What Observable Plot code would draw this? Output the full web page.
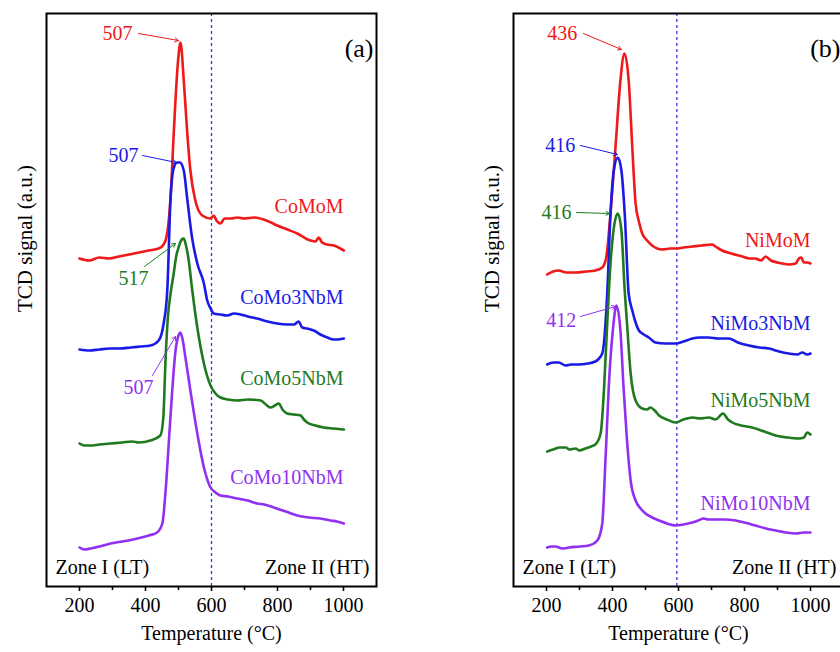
<!DOCTYPE html>
<html><head><meta charset="utf-8">
<script src="https://cdn.jsdelivr.net/npm/d3@7"></script>
<script src="https://cdn.jsdelivr.net/npm/@observablehq/plot@0.6"></script>
<style>
html,body{margin:0;padding:0;background:#fff;}
#wrap{position:relative;width:840px;height:652px;overflow:hidden;background:#fff;}
#a,#b{position:absolute;top:0;}
#a{left:0;width:400px;} #b{left:420px;width:450px;}
#a svg,#b svg{max-width:none !important;}
</style></head><body><div id="wrap"><div id="a"></div><div id="b"></div></div>
<script>
// ---------- shared ----------
const majorTicks = [200, 400, 600, 800, 1000];
const minorTicks = [300, 500, 700, 900];
const xLabel = "Temperature (°C)";
const yLabel = "TCD signal (a.u.)";
const zoneLabels = ["Zone I (LT)", "Zone II (HT)"];
const colors = ["#f01818", "#1a1ae6", "#1f7a1f", "#9130f0"];

// ---------- panel (a) ----------
const seriesA = ["CoMoM", "CoMo3NbM", "CoMo5NbM", "CoMo10NbM"];
const coMoM = [[200,328],[230,326],[260,329],[290,328],[320,330],[350,332],[380,334],[410,336],[440,338],[455,342],[465,352],[476,389],[486,456],[498,523],[506,544],[516,506],[526,456],[536,416],[551,386],[572,371],[597,368],[607,371],[615,366],[627,363],[640,368],[658,368],[680,369],[698,368],[730,369],[758,367],[780,364],[799,361],[830,357],[860,353],[900,346],[915,345],[925,349],[935,344],[950,342],[971,341],[990,338],[1001,336]];
const coMo3NbM = [[200,237],[230,236],[260,237],[290,238],[320,238],[355,239],[385,240],[415,241],[440,246],[455,263],[466,296],[476,389],[486,419],[496,424],[504,424],[516,416],[526,389],[541,349],[557,323],[577,303],[587,286],[597,278],[607,273],[627,272],[648,271],[668,273],[688,272],[710,270],[738,268],[770,265],[799,263],[830,262],[850,262],[864,265],[875,259],[890,258],[910,256],[930,252],[951,249],[970,247],[981,247],[1001,248]];
const coMo5NbM = [[200,143],[215,141],[233,141],[260,142],[294,143],[330,144],[360,145],[380,144],[415,146],[445,151],[454,169],[461,229],[468,270],[476,293],[485,312],[493,330],[501,340],[510,347],[516,348],[522,342],[531,326],[541,298],[557,259],[577,223],[597,201],[612,193],[627,189],[650,187],[678,186],[710,187],[749,186],[765,182],[779,179],[792,181],[804,183],[815,177],[829,173],[850,172],[870,171],[880,167],[890,164],[915,161],[940,159],[970,158],[1001,157]];
const coMo10NbM = [[200,39],[215,37],[233,38],[260,40],[294,43],[330,45],[375,48],[410,51],[435,54],[451,63],[461,96],[471,146],[481,196],[491,236],[500,251],[506,254],[513,246],[521,229],[536,196],[557,153],[577,119],[597,99],[612,94],[627,91],[650,90],[678,88],[710,86],[738,83],[760,82],[789,79],[825,75],[860,71],[895,69],[930,68],[960,66],[980,65],[1001,63]];
const labelYA = [380, 289, 208, 109];
const peakTextA = ["507", "507", "517", "507"];
const peakTextPosA = [[315,553],[333,431],[364,308],[379,199]];
const peakArrowA = [[379,553,500,546],[391,431,494,424],[397,320,491,343],[421,211,491,250]];
const dividerA = 600;

// ---------- panel (b) ----------
const seriesB = ["NiMoM", "NiMo3NbM", "NiMo5NbM", "NiMo10NbM"];
const niMoM = [[202,312],[220,315],[237,316],[260,314],[288,314],[320,315],[348,316],[369,319],[381,329],[394,373],[409,439],[424,506],[436,533],[449,506],[460,439],[470,383],[480,365],[490,353],[505,346],[520,341],[551,337],[575,338],[591,338],[615,339],[642,340],[670,341],[702,342],[712,340],[732,336],[760,333],[793,330],[815,328],[833,328],[850,326],[864,330],[880,326],[900,324],[914,323],[934,322],[955,323],[965,328],[972,329],[980,324],[990,324],[1000,323]];
const niMo3NbM = [[202,222],[220,224],[237,224],[258,221],[275,222],[298,222],[325,223],[348,225],[369,233],[384,293],[394,373],[404,416],[416,429],[427,416],[437,373],[449,293],[460,276],[470,264],[480,256],[495,252],[510,249],[530,244],[560,243],[591,243],[615,245],[642,248],[665,249],[692,249],[720,248],[752,248],[780,244],[813,241],[845,239],[874,238],[905,235],[934,233],[960,232],[975,234],[990,232],[1000,233]];
const niMo5NbM = [[202,135],[220,137],[240,139],[258,139],[270,137],[288,138],[300,136],[318,138],[335,140],[348,142],[364,153],[374,196],[384,263],[394,323],[406,363],[416,373],[427,356],[437,296],[444,263],[455,213],[470,186],[490,178],[505,177],[515,179],[528,176],[541,171],[565,167],[591,164],[615,167],[642,169],[665,168],[692,169],[712,167],[735,173],[750,167],[763,164],[790,161],[823,159],[860,155],[894,151],[930,149],[965,148],[980,149],[990,154],[1000,152]];
const niMo10NbM = [[202,39],[215,40],[227,40],[248,38],[268,39],[300,40],[328,41],[354,46],[369,63],[379,129],[391,213],[401,256],[412,281],[424,256],[434,196],[444,146],[455,106],[470,86],[485,78],[500,73],[520,69],[541,66],[565,63],[591,61],[615,62],[642,64],[660,66],[676,68],[690,67],[712,67],[740,67],[773,66],[800,64],[833,61],[865,58],[894,56],[925,54],[955,53],[980,54],[1000,54]];
const labelYB = [346, 263, 186, 83];
const peakTextB = ["436", "416", "416", "412"];
const peakTextPosB = [[248,553],[242,441],[230,374],[245,266]];
const peakArrowB = [[312,553,427,537],[303,441,415,432],[291,374,391,373],[303,270,409,280]];
const dividerB = 595;

function panel({tag, series, curves, labelY, peakText, peakTextPos, peakArrow, divider, width, marginLeft, marginRight}) {
  const rows = [];
  series.forEach((name, i) => curves[i].forEach(([T, s]) => rows.push({series: name, T, s})));
  const labels = series.map((name, i) => ({series: name, x: 1000, y: labelY[i]}));
  const peaks = series.map((name, i) => ({
    series: name, text: peakText[i], tx: peakTextPos[i][0], ty: peakTextPos[i][1],
    x1: peakArrow[i][0], y1: peakArrow[i][1], x2: peakArrow[i][2], y2: peakArrow[i][3]
  }));
  return Plot.plot({
    width, height: 652,
    marginTop: 13, marginBottom: 66, marginLeft, marginRight,
    x: {domain: [100, 1100], axis: null},
    y: {domain: [0, 573], axis: null},
    color: {domain: series, range: colors},
    style: {fontFamily: '"Liberation Serif", "Times New Roman", serif', fontSize: "20px", background: "transparent", color: "black", overflow: "visible", maxWidth: "none"},
    marks: [
      Plot.ruleX([divider], {stroke: "#3535e0", strokeWidth: 1.3, strokeDasharray: "3,3"}),
      Plot.line(rows, {x: "T", y: "s", z: "series", stroke: "series", strokeWidth: 2.6, curve: "monotone-x"}),
      Plot.text(labels, {x: "x", y: "y", text: "series", fill: "series", textAnchor: "end", fontSize: 20}),
      Plot.arrow(peaks, {x1: "x1", y1: "y1", x2: "x2", y2: "y2", stroke: "series", strokeWidth: 1, headLength: 6}),
      Plot.text(peaks, {x: "tx", y: "ty", text: "text", fill: "series", fontSize: 20}),
      Plot.axisX({ticks: majorTicks, tickSize: 5, tickPadding: 6, tickFormat: d => String(d), fontSize: 20, strokeWidth: 1.6}),
      Plot.axisX({ticks: minorTicks, tickSize: 4, tickFormat: () => "", strokeWidth: 1.6}),
      Plot.frame({stroke: "black", strokeWidth: 2}),
      Plot.text([xLabel], {text: d => d, frameAnchor: "bottom", dy: 53, fontSize: 20}),
      Plot.text([yLabel], {text: d => d, frameAnchor: "left", rotate: -90, dx: -21, dy: 12, fontSize: 21}),
      Plot.text([zoneLabels[0]], {text: d => d, frameAnchor: "bottom-left", textAnchor: "start", dx: 9, dy: -13, fontSize: 20}),
      Plot.text([zoneLabels[1]], {text: d => d, frameAnchor: "bottom-right", textAnchor: "end", dx: -7, dy: -13, fontSize: 20}),
      Plot.text([tag], {text: d => d, frameAnchor: "top-right", textAnchor: "end", dx: -3, dy: 25, fontSize: 26})
    ]
  });
}

document.getElementById("a").append(panel({
  tag: "(a)", series: seriesA, curves: [coMoM, coMo3NbM, coMo5NbM, coMo10NbM],
  labelY: labelYA, peakText: peakTextA, peakTextPos: peakTextPosA, peakArrow: peakArrowA,
  divider: dividerA, width: 400, marginLeft: 46, marginRight: 24
}));
document.getElementById("b").append(panel({
  tag: "(b)", series: seriesB, curves: [niMoM, niMo3NbM, niMo5NbM, niMo10NbM],
  labelY: labelYB, peakText: peakTextB, peakTextPos: peakTextPosB, peakArrow: peakArrowB,
  divider: dividerB, width: 450, marginLeft: 93, marginRight: 27
}));
</script></body></html>
